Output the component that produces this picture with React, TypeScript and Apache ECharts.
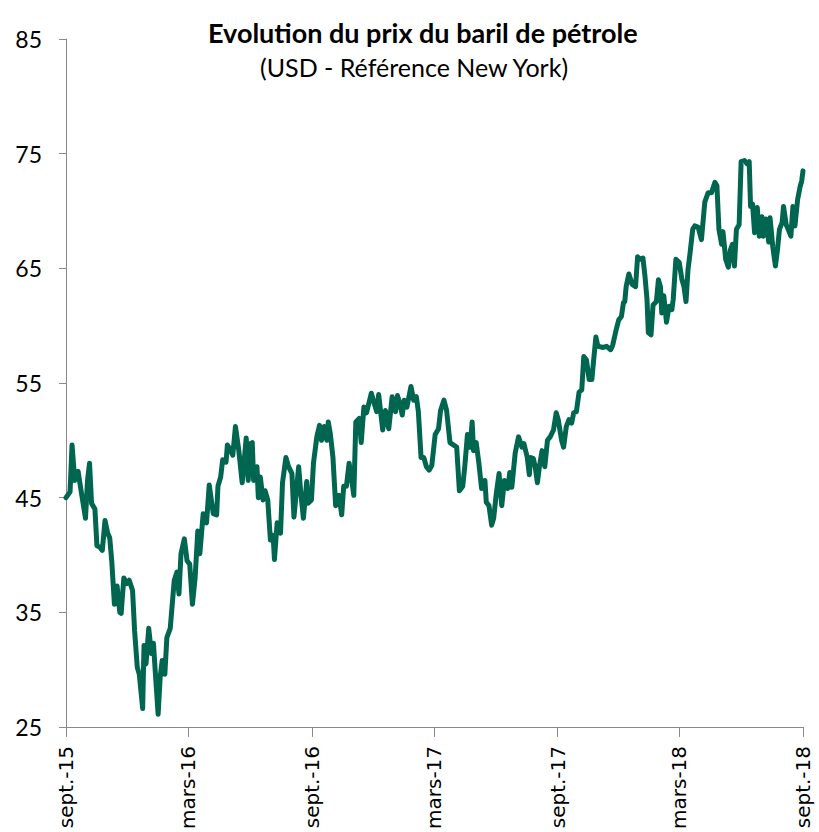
import React, { useEffect, useRef } from "react";
import * as echarts from "echarts";

// Days elapsed since 1 Sept 2015 and WTI price (USD / barrel)
const days: number[] = [
  0, 6, 9, 13, 18, 23, 29, 32, 35, 38, 43, 46, 50, 54, 58, 62, 65, 68, 72, 76,
  80, 82, 86, 90, 94, 99, 102, 106, 109, 114, 116, 119, 123, 127, 130, 133, 137, 140, 143, 147,
  150, 155, 158, 161, 165, 168, 171, 176, 180, 184, 188, 192, 196, 199, 204, 209, 213, 219, 224, 226,
  230, 233, 238, 240, 245, 248, 252, 257, 262, 266, 268, 271, 274, 277, 279, 284, 286, 289, 293, 296,
  300, 304, 308, 310, 314, 319, 322, 327, 331, 336, 339, 346, 349, 353, 358, 360, 365, 368, 373, 377,
  380, 384, 388, 390, 393, 397, 401, 406, 410, 413, 417, 421, 425, 428, 431, 436, 439, 443, 447, 454,
  459, 462, 465, 471, 475, 480, 485, 490, 493, 497, 500, 503, 507, 513, 517, 521, 524, 528, 532, 536,
  540, 544, 549, 554, 557, 562, 566, 571, 576, 581, 585, 590, 593, 597, 601, 604, 606, 610, 614, 618,
  623, 625, 629, 633, 636, 640, 644, 648, 652, 657, 660, 663, 668, 673, 678, 681, 686, 689, 691, 695,
  698, 701, 704, 708, 712, 716, 720, 725, 729, 732, 737, 740, 744, 748, 752, 755, 759, 763, 767, 770,
  774, 778, 782, 785, 788, 791, 799, 804, 810, 813, 818, 822, 826, 829, 831, 833, 837, 842, 847, 850,
  854, 858, 861, 864, 866, 870, 873, 878, 881, 884, 886, 889, 893, 897, 901, 903, 907, 912, 916, 919,
  922, 925, 928, 932, 935, 940, 945, 950, 955, 960, 965, 968, 971, 975, 977, 981, 985, 988, 991, 994,
  997, 1001, 1004, 1009, 1013, 1016, 1018, 1021, 1024, 1028, 1031, 1035, 1037, 1041, 1045, 1047, 1051, 1055, 1058, 1061,
  1065, 1067, 1071, 1074, 1078, 1081, 1084, 1088, 1092, 1094, 1096,
];

const prices: number[] = [
  45.0, 45.5, 49.6, 46.5, 47.3, 45.4, 43.2, 46.5, 48.0, 44.5, 44.0, 40.8, 40.7, 40.4, 43.0, 41.9, 41.5, 39.5, 35.7, 37.3,
  35.0, 34.9, 38.0, 37.5, 37.8, 36.9, 33.4, 30.2, 29.6, 26.6, 32.1, 30.5, 33.6, 31.4, 32.3, 29.6, 26.1, 29.3, 30.8, 29.6,
  32.8, 33.6, 35.7, 37.8, 38.5, 36.6, 40.1, 41.4, 39.5, 39.2, 35.7, 38.0, 42.1, 40.1, 43.6, 42.8, 46.1, 43.6, 43.5, 46.0,
  46.8, 48.3, 48.1, 49.6, 49.1, 48.7, 51.2, 49.1, 46.3, 48.9, 50.2, 46.5, 49.7, 49.8, 46.5, 47.7, 45.0, 46.8, 44.8, 45.6,
  44.8, 41.3, 41.7, 39.6, 42.8, 41.9, 46.3, 48.5, 47.7, 47.1, 43.3, 47.7, 45.5, 43.2, 46.4, 44.5, 44.8, 48.0, 50.3, 51.3,
  50.0, 51.2, 50.0, 51.6, 50.6, 48.5, 44.3, 45.2, 43.5, 46.0, 46.0, 48.0, 46.5, 45.2, 51.6, 51.9, 49.8, 52.9, 52.4, 54.1,
  53.1, 52.5, 54.0, 50.9, 52.6, 51.0, 53.8, 52.5, 53.9, 53.1, 52.2, 53.5, 52.9, 54.7, 53.5, 53.8, 52.5, 48.5, 48.5, 47.7,
  47.4, 47.8, 50.5, 51.0, 52.6, 53.5, 52.6, 49.8, 49.6, 49.4, 45.6, 46.0, 47.7, 50.5, 49.4, 51.6, 49.1, 49.8, 48.0, 45.8,
  46.5, 44.6, 44.3, 42.6, 43.2, 45.4, 47.1, 44.3, 46.5, 45.8, 47.2, 45.9, 48.9, 50.3, 49.4, 49.7, 48.5, 47.0, 48.5, 48.4,
  47.6, 46.3, 47.7, 49.1, 47.7, 50.0, 50.3, 50.9, 52.4, 51.8, 50.0, 49.4, 51.2, 51.8, 51.5, 52.4, 52.5, 54.2, 54.4, 57.3,
  57.0, 55.3, 55.3, 57.2, 59.0, 58.2, 58.1, 58.2, 57.9, 58.3, 59.6, 60.5, 60.8, 62.0, 62.1, 63.4, 64.5, 63.6, 63.4, 66.0,
  65.8, 65.9, 64.3, 62.3, 59.4, 59.2, 61.8, 62.1, 64.0, 63.4, 61.1, 62.6, 60.3, 61.7, 61.4, 62.3, 65.8, 65.5, 64.0, 63.4,
  62.1, 64.9, 66.3, 68.4, 68.7, 68.6, 67.5, 70.8, 71.6, 71.6, 72.5, 72.2, 68.4, 67.1, 68.2, 65.8, 65.1, 66.6, 67.1, 65.2,
  68.4, 68.8, 74.3, 74.4, 74.1, 74.3, 70.4, 70.6, 68.1, 70.3, 67.8, 69.5, 67.8, 69.3, 67.3, 69.4, 66.9, 65.2, 66.6, 68.4,
  69.0, 70.4, 68.8, 68.4, 67.8, 70.4, 68.7, 71.0, 72.2, 72.6, 73.5,
];

// X-axis ticks (days since 1 Sept 2015) and their labels
const tickDays: number[] = [0, 182, 366, 547, 731, 912, 1096];
const tickLabels: string[] = ["sept.-15", "mars-16", "sept.-16", "mars-17", "sept.-17", "mars-18", "sept.-18"];

// Y-axis tick values
const yTicks: number[] = [25, 35, 45, 55, 65, 75, 85];

const titleText = "Evolution du prix du baril de pétrole";
const subtitleText = "(USD - Référence New York)";

export default function App() {
  const ref = useRef<HTMLDivElement>(null);

  useEffect(() => {
    document.body.style.margin = "0";
    if (!ref.current) return;
    const chart = echarts.init(ref.current, null, { renderer: "svg" });
    const data = days.map((d, i) => [d, prices[i]]);
    chart.setOption({
      animation: false,
      backgroundColor: "#ffffff",
      title: [
        {
          text: titleText,
          left: 203,
          top: 14,
          textStyle: { fontFamily: "Lato", fontWeight: "bold", fontSize: 27, color: "#000000" },
        },
        {
          text: subtitleText,
          left: 255,
          top: 49,
          textStyle: { fontFamily: "Lato", fontWeight: "normal", fontSize: 25, color: "#000000" },
        },
      ],
      grid: { left: 66, right: 16, top: 39, bottom: 104, containLabel: false },
      xAxis: {
        type: "value",
        min: 0,
        max: 1096,
        splitLine: { show: false },
        axisLine: { show: true, lineStyle: { color: "#898989", width: 1 } },
        axisTick: {
          show: true,
          length: 10,
          customValues: tickDays,
          lineStyle: { color: "#898989", width: 1 },
        },
        axisLabel: {
          customValues: tickDays,
          rotate: 90,
          margin: 19,
          fontFamily: "DejaVu Sans",
          fontSize: 20,
          color: "#000000",
          formatter: (v: number) => {
            const i = tickDays.indexOf(Math.round(v));
            return i >= 0 ? tickLabels[i] : "";
          },
        },
      },
      yAxis: {
        type: "value",
        min: 25,
        max: 85,
        splitLine: { show: false },
        axisLine: { show: true, lineStyle: { color: "#898989", width: 1 } },
        axisTick: {
          show: true,
          length: 7,
          customValues: yTicks,
          lineStyle: { color: "#898989", width: 1 },
        },
        axisLabel: {
          customValues: yTicks,
          margin: 24,
          fontFamily: "Lato",
          fontSize: 23,
          color: "#000000",
        },
      },
      series: [
        {
          type: "line",
          data,
          showSymbol: false,
          symbol: "none",
          lineStyle: { color: "#00664F", width: 5, cap: "round", join: "round" },
        },
      ],
    });
    return () => chart.dispose();
  }, []);

  return <div ref={ref} style={{ width: 819, height: 832 }} />;
}
